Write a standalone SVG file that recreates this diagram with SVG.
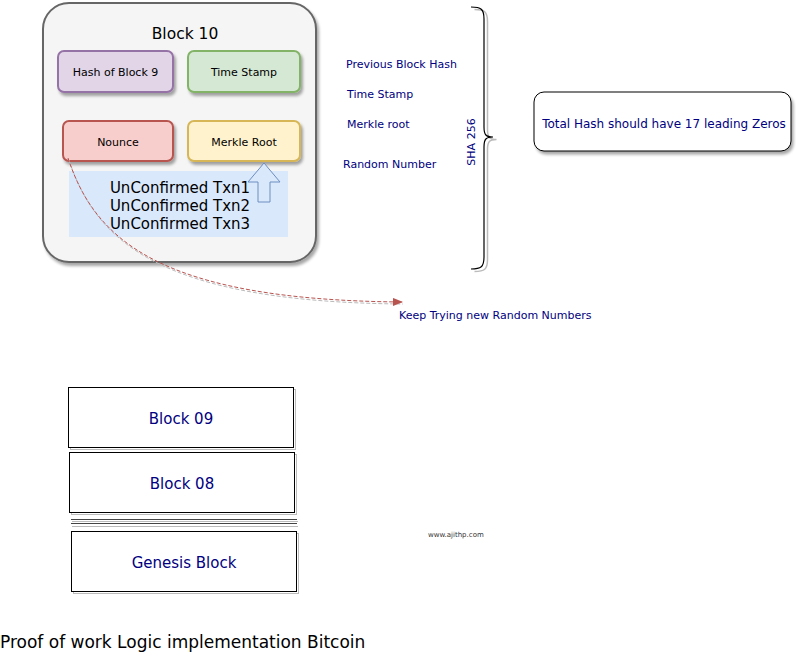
<svg xmlns="http://www.w3.org/2000/svg" width="796" height="653" viewBox="0 0 796 653">
<style>
text{font-family:"DejaVu Sans",Verdana,sans-serif}
.navy{fill:#000080}
.lbl{font-size:11px}
.c{text-anchor:middle}
.sh{fill:none;stroke:#bbb;stroke-width:1}
.blk{fill:#fff;stroke:#000;stroke-width:1}
</style>
<defs>
<filter id="ds" x="-10%" y="-10%" width="130%" height="130%">
<feGaussianBlur in="SourceAlpha" stdDeviation="1.5"/>
<feOffset dx="2" dy="3" result="b"/>
<feComponentTransfer><feFuncA type="linear" slope="0.35"/></feComponentTransfer>
<feMerge><feMergeNode/><feMergeNode in="SourceGraphic"/></feMerge>
</filter>
<marker id="ah" markerWidth="10" markerHeight="8" refX="9" refY="4" orient="auto" markerUnits="userSpaceOnUse">
<path d="M0,0 L10,4 L0,8 Z" fill="#b85450"/>
</marker>
</defs>

<g id="block10">
<rect x="43" y="3" width="273" height="259" rx="26" fill="#f5f5f5" stroke="#666" stroke-width="2" filter="url(#ds)"/>
<text x="185" y="39" class="c" font-size="15.5" fill="#000">Block 10</text>
</g>
<g id="hash9">
<rect x="58" y="51" width="115" height="41" rx="6" fill="#e1d5e7" stroke="#9673a6" stroke-width="2" filter="url(#ds)"/>
<text x="115.5" y="75.5" class="c lbl" fill="#000">Hash of Block 9</text>
</g>
<g id="timestamp">
<rect x="188" y="51" width="112" height="41" rx="6" fill="#d5e8d4" stroke="#82b366" stroke-width="2" filter="url(#ds)"/>
<text x="244" y="75.5" class="c lbl" fill="#000">Time Stamp</text>
</g>
<g id="nounce">
<rect x="63" y="121" width="110" height="40" rx="6" fill="#f8cecc" stroke="#b85450" stroke-width="2" filter="url(#ds)"/>
<text x="118" y="145.5" class="c lbl" fill="#000">Nounce</text>
</g>
<g id="merkle">
<rect x="188" y="121" width="112" height="40" rx="6" fill="#fff2cc" stroke="#d6b656" stroke-width="2" filter="url(#ds)"/>
<text x="244" y="145.5" class="c lbl" fill="#000">Merkle Root</text>
</g>
<g id="txns">
<rect x="69" y="171" width="219" height="66" fill="#dae8fc"/>
<text x="180" y="193" class="c" font-size="15" fill="#000">UnConfirmed Txn1</text>
<text x="180" y="211" class="c" font-size="15" fill="#000">UnConfirmed Txn2</text>
<text x="180" y="229" class="c" font-size="15" fill="#000">UnConfirmed Txn3</text>
</g>
<g id="uparrow">
<path d="M264,163 L280,182 L270,182 L270,202 L258,202 L258,182 L248,182 Z" fill="#dae8fc" stroke="#6c8ebf" stroke-width="1"/>
</g>

<g id="fields">
<text x="346" y="68" class="lbl navy">Previous Block Hash</text>
<text x="347" y="98" class="lbl navy">Time Stamp</text>
<text x="347" y="128" class="lbl navy">Merkle root</text>
<text x="343" y="168" class="lbl navy">Random Number</text>
</g>

<g id="brace">
<path d="M473,8 C483,8 486,10 486,20 L486,128 C486,136 488,138 495,138 C488,138 486,140 486,148 L486,258 C486,268 483,270 473,270" fill="none" stroke="#bbb" stroke-width="1.5" transform="translate(1.5,1.5)"/>
<path d="M471,7 C481,7 484,9 484,19 L484,127 C484,135 486,137 493,137 C486,137 484,139 484,147 L484,257 C484,267 481,269 471,269" fill="none" stroke="#000" stroke-width="1.2"/>
<text transform="translate(475,142) rotate(-90)" class="c lbl navy">SHA 256</text>
</g>

<g id="total">
<rect x="534" y="92" width="257" height="59" rx="10" fill="#fff" stroke="#000" stroke-width="1" filter="url(#ds)"/>
<text x="664" y="128" class="c" font-size="12" fill="#000080">Total Hash should have 17 leading Zeros</text>
</g>

<g id="connectors">
<path d="M68,158 C95,240 160,300 402,302" fill="none" stroke="#bbb" stroke-width="1" stroke-dasharray="4,2" transform="translate(1,2)"/>
<path d="M68,158 C95,240 160,300 402,302" fill="none" stroke="#b85450" stroke-width="1" stroke-dasharray="4,2" marker-end="url(#ah)"/>
</g>
<text x="399" y="319" class="lbl navy">Keep Trying new Random Numbers</text>

<g id="block09">
<rect x="70.5" y="389.5" width="225" height="60" class="sh"/>
<rect x="68.5" y="387.5" width="225" height="60" class="blk"/>
<text x="181" y="424" class="c navy" font-size="15">Block 09</text>
</g>
<g id="block08">
<rect x="71.5" y="454.5" width="225" height="60" class="sh"/>
<rect x="69.5" y="452.5" width="225" height="60" class="blk"/>
<text x="182" y="489" class="c navy" font-size="15">Block 08</text>
</g>
<g id="ellipsis">
<line x1="71" y1="519.5" x2="297" y2="519.5" stroke="#444"/>
<line x1="71" y1="523.5" x2="297" y2="523.5" stroke="#444"/>
<line x1="72" y1="521.5" x2="298" y2="521.5" stroke="#bbb"/>
<line x1="72" y1="526.5" x2="298" y2="526.5" stroke="#bbb"/>
</g>
<g id="genesis">
<rect x="73.5" y="533.5" width="225" height="60" class="sh"/>
<rect x="71.5" y="531.5" width="225" height="60" class="blk"/>
<text x="184" y="568" class="c navy" font-size="15">Genesis Block</text>
</g>

<text x="428" y="537" font-size="7" fill="#333">www.ajithp.com</text>
<text x="0" y="648" font-size="17" fill="#000">Proof of work Logic implementation Bitcoin</text>
</svg>
